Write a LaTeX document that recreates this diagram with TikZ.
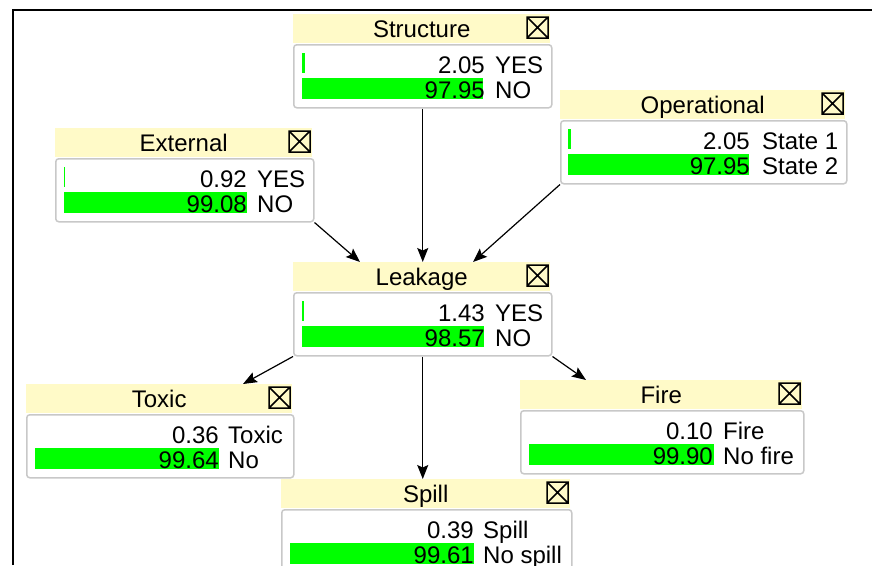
\documentclass[tikz,border=0pt]{standalone}
\usepackage{fontspec}
\setmainfont{Liberation Sans}
\usetikzlibrary{arrows.meta,calc}

\definecolor{TitleYellow}{RGB}{255,250,200}
\definecolor{BarGreen}{RGB}{0,255,0}
\definecolor{BoxGray}{RGB}{200,200,200}

\tikzset{
    titlebar/.style={fill=TitleYellow, anchor=north west, inner sep=0pt, minimum height=29pt, text height=17pt, text depth=0pt},
    bodybox/.style={draw=BoxGray, line width=1.5pt, rounded corners=3pt, fill=white, anchor=north west, inner sep=0pt, minimum height=63pt},
    xicon/.style={line width=1.5pt, black},
    val/.style={anchor=base east, inner sep=0pt},
    state/.style={anchor=base west, inner sep=0pt},
    link/.style={-{Stealth[length=14pt,width=11pt,inset=2.5pt]}, line width=1.2pt, black}
}

\begin{document}
\begin{tikzpicture}[x=1pt, y=-1pt, font=\fontsize{24pt}{28pt}\selectfont]
            \useasboundingbox (0, 0) rectangle (872, 565);
            \clip (0, 0) rectangle (872, 565);

            \draw[line width=2.5pt] (13, 565) -- (13, 10) -- (872, 10);

            \coordinate (N) at (293, 14);
            %Structure
            \node[titlebar, minimum width=257pt] (strT) at (N) {Structure};
            \draw[xicon] ($(N) + (234, 3)$) rectangle ++(21, 21) -- ++(-21, -21) ++(0, 21) -- ++(21, -21);
            \node[bodybox, minimum width=258pt] (str) at ($(N) + (0, 30)$) {};
            \fill[BarGreen] ($(N) + (8.5, 39)$) rectangle ++(3.8, 20);
            \fill[BarGreen] ($(N) + (8.5, 64)$) rectangle ++(181.7, 21);
            \node[val] at ($(N) + (192, 59)$) {2.05};
            \node[state] at ($(N) + (202, 59)$) {YES};
            \node[val] at ($(N) + (192, 84.5)$) {97.95};
            \node[state] at ($(N) + (202, 84.5)$) {NO};

            \coordinate (N) at (55, 128);
            %External
            \node[titlebar, minimum width=257pt] (extT) at (N) {External};
            \draw[xicon] ($(N) + (234, 3)$) rectangle ++(21, 21) -- ++(-21, -21) ++(0, 21) -- ++(21, -21);
            \node[bodybox, minimum width=258pt] (ext) at ($(N) + (0, 30)$) {};
            \fill[BarGreen] ($(N) + (8.5, 39)$) rectangle ++(1.7, 20);
            \fill[BarGreen] ($(N) + (8.5, 64)$) rectangle ++(183.8, 21);
            \node[val] at ($(N) + (192, 59)$) {0.92};
            \node[state] at ($(N) + (202, 59)$) {YES};
            \node[val] at ($(N) + (192, 84.5)$) {99.08};
            \node[state] at ($(N) + (202, 84.5)$) {NO};

            \coordinate (N) at (560, 90);
            %Operational
            \node[titlebar, minimum width=285pt] (oprT) at (N) {Operational};
            \draw[xicon] ($(N) + (262, 3)$) rectangle ++(21, 21) -- ++(-21, -21) ++(0, 21) -- ++(21, -21);
            \node[bodybox, minimum width=286pt] (opr) at ($(N) + (0, 30)$) {};
            \fill[BarGreen] ($(N) + (7.5, 39)$) rectangle ++(3.8, 20);
            \fill[BarGreen] ($(N) + (7.5, 64)$) rectangle ++(181.7, 21);
            \node[val] at ($(N) + (190, 59)$) {2.05};
            \node[state] at ($(N) + (202, 59)$) {State 1};
            \node[val] at ($(N) + (190, 84.5)$) {97.95};
            \node[state] at ($(N) + (202, 84.5)$) {State 2};

            \coordinate (N) at (293, 262);
            %Leakage
            \node[titlebar, minimum width=257pt] (leakT) at (N) {Leakage};
            \draw[xicon] ($(N) + (234, 3)$) rectangle ++(21, 21) -- ++(-21, -21) ++(0, 21) -- ++(21, -21);
            \node[bodybox, minimum width=258pt] (leak) at ($(N) + (0, 30)$) {};
            \fill[BarGreen] ($(N) + (8.5, 39)$) rectangle ++(2.7, 20);
            \fill[BarGreen] ($(N) + (8.5, 64)$) rectangle ++(182.8, 21);
            \node[val] at ($(N) + (192, 59)$) {1.43};
            \node[state] at ($(N) + (202, 59)$) {YES};
            \node[val] at ($(N) + (192, 84.5)$) {98.57};
            \node[state] at ($(N) + (202, 84.5)$) {NO};

            \coordinate (N) at (26, 384);
            %Toxic
            \node[titlebar, minimum width=266pt] (toxT) at (N) {Toxic};
            \draw[xicon] ($(N) + (243, 3)$) rectangle ++(21, 21) -- ++(-21, -21) ++(0, 21) -- ++(21, -21);
            \node[bodybox, minimum width=267pt] (tox) at ($(N) + (0, 30)$) {};
            \fill[BarGreen] ($(N) + (8.5, 64)$) rectangle ++(184.8, 21);
            \node[val] at ($(N) + (193, 59)$) {0.36};
            \node[state] at ($(N) + (202, 59)$) {Toxic};
            \node[val] at ($(N) + (193, 84.5)$) {99.64};
            \node[state] at ($(N) + (202, 84.5)$) {No};

            \coordinate (N) at (520, 380);
            %Fire
            \node[titlebar, minimum width=282pt] (fireT) at (N) {Fire};
            \draw[xicon] ($(N) + (259, 3)$) rectangle ++(21, 21) -- ++(-21, -21) ++(0, 21) -- ++(21, -21);
            \node[bodybox, minimum width=283pt] (fire) at ($(N) + (0, 30)$) {};
            \fill[BarGreen] ($(N) + (8.5, 64)$) rectangle ++(185.3, 21);
            \node[val] at ($(N) + (193, 59)$) {0.10};
            \node[state] at ($(N) + (203, 59)$) {Fire};
            \node[val] at ($(N) + (193, 84.5)$) {99.90};
            \node[state] at ($(N) + (203, 84.5)$) {No fire};

            \coordinate (N) at (281, 479);
            %Spill
            \node[titlebar, minimum width=289pt] (spillT) at (N) {Spill};
            \draw[xicon] ($(N) + (266, 3)$) rectangle ++(21, 21) -- ++(-21, -21) ++(0, 21) -- ++(21, -21);
            \node[bodybox, minimum width=290pt] (spill) at ($(N) + (0, 30)$) {};
            \fill[BarGreen] ($(N) + (8.5, 64)$) rectangle ++(184.8, 21);
            \node[val] at ($(N) + (193, 59)$) {0.39};
            \node[state] at ($(N) + (202, 59)$) {Spill};
            \node[val] at ($(N) + (193, 84.5)$) {99.61};
            \node[state] at ($(N) + (202, 84.5)$) {No spill};

            \draw[link] (ext.south east) -- ($(leakT.north west) + (67, 0)$);
            \draw[link] (str.south) -- (str.south |- leakT.north);
            \draw[link] (opr.south west) -- ($(leakT.north west) + (180, 0)$);
            \draw[link] (leak.south west) -- ($(toxT.north west) + (217, 0)$);
            \draw[link] (leak.south) -- (leak.south |- spillT.north);
            \draw[link] (leak.south east) -- ($(fireT.north west) + (66, 0)$);

\end{tikzpicture}
\end{document}
